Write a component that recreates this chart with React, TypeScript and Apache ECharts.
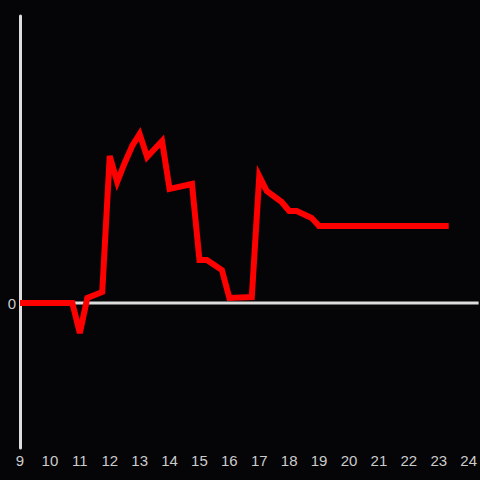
import React, { useEffect, useRef } from "react";
import * as echarts from "echarts";

const hours = [9, 10.75, 11, 11.25, 11.75, 12, 12.25, 12.5, 12.75, 13, 13.25, 13.75, 14, 14.75, 15, 15.25, 15.75, 16, 16.75, 17, 17.25, 17.75, 18, 18.25, 18.75, 19, 23.333];
const values = [0, 0, -30, 5, 11, 147, 121, 140, 157, 169, 146, 162, 114, 119, 43, 43, 33, 5, 6, 127, 112, 101, 92, 92, 85, 77, 77];
const xTicks = [9, 10, 11, 12, 13, 14, 15, 16, 17, 18, 19, 20, 21, 22, 23, 24];

export default function App() {
  const ref = useRef<HTMLDivElement>(null);
  useEffect(() => {
    if (!ref.current) return;
    const chart = echarts.init(ref.current, null, { renderer: "svg" });
    const xMax = 9 + 460 / 30;
    chart.setOption({
      animation: false,
      backgroundColor: "#050407",
      grid: { left: 20, right: 0, top: 16, bottom: 32 },
      xAxis: {
        type: "value",
        min: 9,
        max: xMax,
        interval: 1,
        axisLine: { show: false },
        axisTick: { show: false },
        splitLine: { show: false },
        axisLabel: {
          color: "#cccccc",
          fontSize: 15,
          fontFamily: "Liberation Sans, Arial, sans-serif",
          margin: 5,
          showMaxLabel: false,
          formatter: (v: number) => (xTicks.includes(v) ? String(v) : ""),
        },
      },
      yAxis: {
        type: "value",
        min: -145,
        max: 287,
        interval: 145,
        axisLine: { show: true, lineStyle: { color: "#dddddd", width: 3 } },
        axisTick: { show: false },
        splitLine: { show: false },
        axisLabel: {
          color: "#cccccc",
          fontSize: 15,
          fontFamily: "Liberation Sans, Arial, sans-serif",
          margin: 4,
          showMinLabel: false,
          showMaxLabel: false,
          formatter: (v: number) => (v === 0 ? "0" : ""),
        },
      },
      series: [
        {
          type: "line",
          data: [[9, 0], [xMax, 0]],
          symbol: "none",
          silent: true,
          lineStyle: { color: "#dddddd", width: 3 },
          z: 1,
        },
        {
          type: "line",
          data: hours.map((h, i) => [h, values[i]]),
          symbol: "none",
          lineStyle: { color: "#ff0000", width: 6, cap: "butt", join: "miter" },
          z: 3,
        },
      ],
    });
    return () => chart.dispose();
  }, []);
  return <div ref={ref} style={{ width: 480, height: 480, position: "absolute", left: 0, top: 0 }} />;
}
